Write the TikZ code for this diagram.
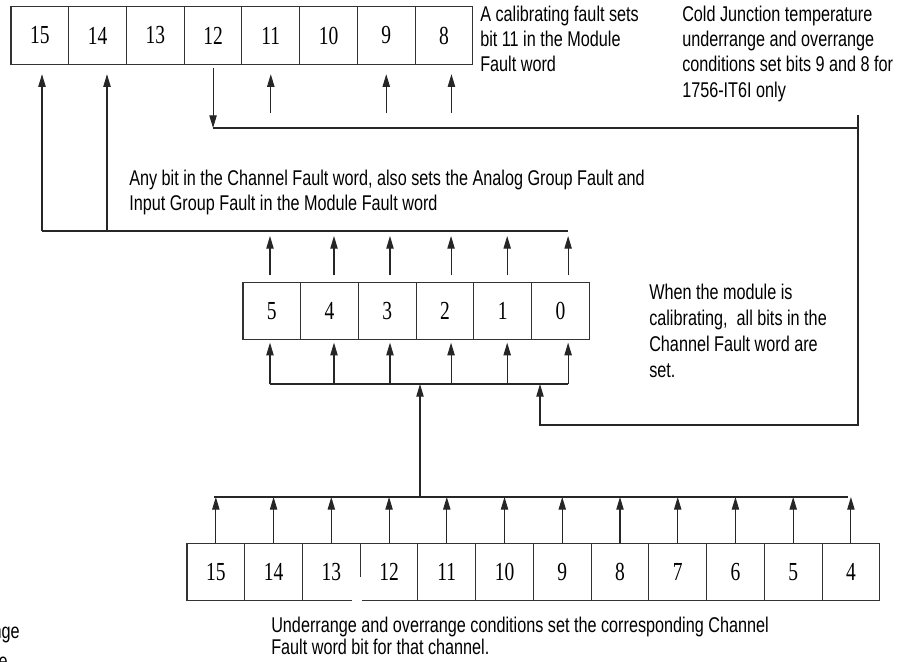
\documentclass[tikz,border=0pt]{standalone}
\usepackage{fontspec}
\setmainfont{Liberation Serif}
\newfontfamily\notefont{Liberation Sans}[FakeStretch=0.76]
\newfontfamily\bitfont{Liberation Serif}[FakeStretch=0.75]
\usetikzlibrary{arrows.meta, positioning}

\begin{document}
\begin{tikzpicture}[
    x=0.75pt, y=-0.75pt,
    node distance=0pt,
    bitcell/.style={draw=black!80, line width=0.8pt, minimum width=43.3pt, minimum height=43pt, inner sep=0pt, outer sep=0pt, font=\bitfont\fontsize{19.5}{20}\selectfont},
    note/.style={anchor=north west, align=left, inner sep=0pt, font=\notefont\fontsize{16}{19}\selectfont},
    wire/.style={line width=0.8pt, black!85},
    arr/.style={wire, -{Triangle[length=9.5pt, width=5.5pt]}}
]
\useasboundingbox (0,0) rectangle (906,661);

\node[bitcell] (m15) at (39.85,35.5) {15};
\node[bitcell, right=of m15] (m14) {14};
\node[bitcell, right=of m14] (m13) {13};
\node[bitcell, right=of m13] (m12) {12};
\node[bitcell, right=of m12] (m11) {11};
\node[bitcell, right=of m11] (m10) {10};
\node[bitcell, right=of m10] (m9) {9};
\node[bitcell, right=of m9] (m8) {8};

\node[bitcell] (c5) at (271.85,311) {5};
\node[bitcell, right=of c5] (c4) {4};
\node[bitcell, right=of c4] (c3) {3};
\node[bitcell, right=of c3] (c2) {2};
\node[bitcell, right=of c2] (c1) {1};
\node[bitcell, right=of c1] (c0) {0};

\node[bitcell] (b15) at (215.85,572) {15};
\node[bitcell, right=of b15] (b14) {14};
\node[bitcell, right=of b14] (b13) {13};
\node[bitcell, right=of b13] (b12) {12};
\node[bitcell, right=of b12] (b11) {11};
\node[bitcell, right=of b11] (b10) {10};
\node[bitcell, right=of b10] (b9) {9};
\node[bitcell, right=of b9] (b8) {8};
\node[bitcell, right=of b8] (b7) {7};
\node[bitcell, right=of b7] (b6) {6};
\node[bitcell, right=of b6] (b5) {5};
\node[bitcell, right=of b5] (b4) {4};
\fill[white] (352,577) rectangle (362,604);

\node[note] (calnote) at (480,5.4) {A calibrating fault sets\\bit 11 in the Module\\Fault word};
\node[note] (cjnote) at (682,5.4) {Cold Junction temperature\\underrange and overrange\\conditions set bits 9 and 8 for\\1756-IT6I only};
\node[note] (anynote) at (129,169.4) {Any bit in the Channel Fault word, also sets the Analog Group Fault and\\Input Group Fault in the Module Fault word};
\node[note, font=\notefont\fontsize{16}{19.5}\selectfont] (calibnote) at (649,283.4) {When the module is\\calibrating,\ \ all bits in the\\Channel Fault word are\\set.};
\node[note, font=\notefont\fontsize{16}{16.5}\selectfont] (rangenote) at (271,616.4) {Underrange and overrange conditions set the corresponding Channel\\Fault word bit for that channel.};
\node[note, anchor=base east] (cutnote) at (20,638) {nge};
\node[note, anchor=base east] (cutnote2) at (8,668) {e};

\coordinate (ubusL) at (42,231);
\coordinate (ubus14) at (107,231);
\coordinate (ubusR) at (568,231);
\coordinate (calTop) at (858,115);
\coordinate (calR) at (858,128);
\coordinate (calB) at (540,425);
\coordinate (lbusL) at (270,384);
\coordinate (lbusR) at (568,384);
\coordinate (tap) at (420,497);
\coordinate (bbusL) at (214,497);
\coordinate (bbusR) at (848,497);
\coordinate[below=36.75pt of m11] (in11);
\coordinate[below=36.75pt of m9] (in9);
\coordinate[below=36.75pt of m8, xshift=5.6pt] (in8);

\draw[wire] (ubusL) -- (ubusR);
\draw[arr, shorten >=7.5pt] (ubusL) -- (ubusL |- m15.south);
\draw[arr, shorten >=7.5pt] (ubus14) -- (ubus14 |- m14.south);
\draw[arr, shorten >=7.5pt] (in11) -- (in11 |- m11.south);
\draw[arr, shorten >=7.5pt] (in9) -- (in9 |- m9.south);
\draw[arr, shorten >=7.5pt] (in8) -- (in8 |- m8.south);

\draw[arr, shorten <=3pt] (m12) -- (m12 |- calR);
\draw[wire] (calTop) -- (calR);
\draw[arr] (m12 |- calR) -- (calR) |- (calB) -- (calB |- lbusR);

\draw[arr, shorten <=5.25pt, shorten >=3.75pt] ([xshift=-1.4pt]c5.north) -- ([xshift=-1.4pt]c5.north |- ubusR);
\draw[arr, shorten <=5.25pt, shorten >=3.75pt] ([xshift=3.3pt]c4.north) -- ([xshift=3.3pt]c4.north |- ubusR);
\draw[arr, shorten <=5.25pt, shorten >=3.75pt] ([xshift=2pt]c3.north) -- ([xshift=2pt]c3.north |- ubusR);
\draw[arr, shorten <=5.25pt, shorten >=3.75pt] ([xshift=4.5pt]c2.north) -- ([xshift=4.5pt]c2.north |- ubusR);
\draw[arr, shorten <=5.25pt, shorten >=3.75pt] ([xshift=3.3pt]c1.north) -- ([xshift=3.3pt]c1.north |- ubusR);
\draw[arr, shorten <=5.25pt, shorten >=3.75pt] ([xshift=5.7pt]c0.north) -- ([xshift=5.7pt]c0.north |- ubusR);

\draw[wire] (lbusL) -- (lbusR);
\draw[arr, shorten >=2.25pt] ([xshift=-1.4pt]c5.south |- lbusR) -- ([xshift=-1.4pt]c5.south);
\draw[arr, shorten >=2.25pt] ([xshift=3.3pt]c4.south |- lbusR) -- ([xshift=3.3pt]c4.south);
\draw[arr, shorten >=2.25pt] ([xshift=2pt]c3.south |- lbusR) -- ([xshift=2pt]c3.south);
\draw[arr, shorten >=2.25pt] ([xshift=4.5pt]c2.south |- lbusR) -- ([xshift=4.5pt]c2.south);
\draw[arr, shorten >=2.25pt] ([xshift=3.3pt]c1.south |- lbusR) -- ([xshift=3.3pt]c1.south);
\draw[arr, shorten >=2.25pt] ([xshift=5.7pt]c0.south |- lbusR) -- ([xshift=5.7pt]c0.south);

\draw[arr] (tap) -- (tap |- lbusR);
\draw[wire] (bbusL) -- (bbusR);
\draw[arr] (b15) -- (b15 |- bbusL);
\draw[arr] (b14) -- (b14 |- bbusL);
\draw[arr] (b13) -- (b13 |- bbusL);
\draw[arr] (b12) -- (b12 |- bbusL);
\draw[arr] (b11) -- (b11 |- bbusL);
\draw[arr] (b10) -- (b10 |- bbusL);
\draw[arr] (b9) -- (b9 |- bbusL);
\draw[arr] (b8) -- (b8 |- bbusL);
\draw[arr] (b7) -- (b7 |- bbusL);
\draw[arr] (b6) -- (b6 |- bbusL);
\draw[arr] (b5) -- (b5 |- bbusL);
\draw[arr] (b4) -- (b4 |- bbusL);
\end{tikzpicture}
\end{document}
